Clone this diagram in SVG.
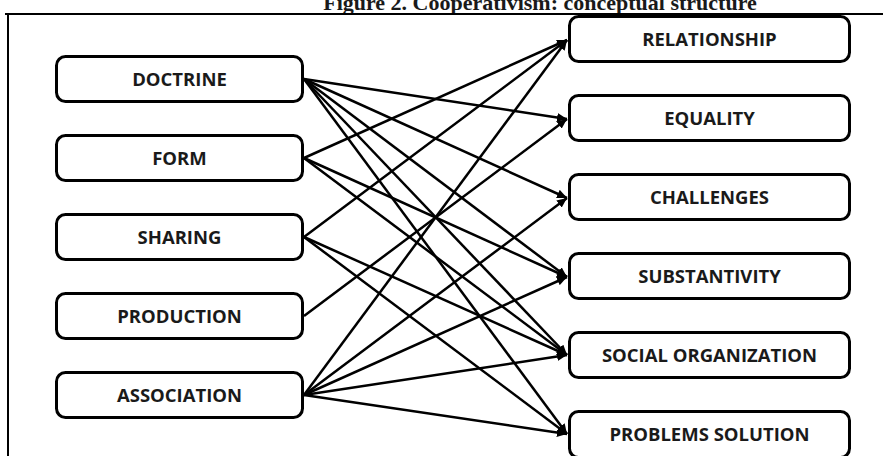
<svg xmlns="http://www.w3.org/2000/svg" width="883" height="456" viewBox="0 0 883 456">
  <style>
    .box rect { fill: #ffffff; stroke: #000000; stroke-width: 3; }
    .box text { font-family: "Open Sans", "Liberation Sans", sans-serif; font-weight: bold; font-size: 18.5px; fill: #1a1a1a; text-anchor: middle; }
    .title { font-family: "Liberation Serif", "Times New Roman", serif; font-weight: bold; font-size: 22px; fill: #1a1a1a; text-anchor: middle; }
    .frame { stroke: #000000; stroke-width: 2; fill: none; }
    #connectors line { stroke: #000000; stroke-width: 2.5; marker-end: url(#arrow); }
  </style>
  <defs>
    <marker id="arrow" markerUnits="userSpaceOnUse" markerWidth="11" markerHeight="9" refX="10" refY="4.5" orient="auto">
      <path d="M0,0 L10,4.5 L0,9 z" fill="#000000"/>
    </marker>
  </defs>
  <rect width="883" height="456" fill="#ffffff"/>
  <text class="title" x="540" y="10">Figure 2. Cooperativism: conceptual structure</text>
  <g id="frame">
    <line class="frame" x1="5" y1="14" x2="883" y2="14"/>
    <line class="frame" x1="8" y1="13" x2="8" y2="456"/>
  </g>
  <g id="connectors">
    <!-- DOCTRINE -->
    <line x1="304" y1="79" x2="567" y2="119"/>
    <line x1="304" y1="79" x2="567" y2="198"/>
    <line x1="304" y1="79" x2="567" y2="277"/>
    <line x1="304" y1="79" x2="567" y2="355"/>
    <line x1="304" y1="79" x2="567" y2="434"/>
    <!-- FORM -->
    <line x1="304" y1="158" x2="567" y2="40"/>
    <line x1="304" y1="158" x2="567" y2="277"/>
    <line x1="304" y1="158" x2="567" y2="355"/>
    <!-- SHARING -->
    <line x1="304" y1="237" x2="567" y2="40"/>
    <line x1="304" y1="237" x2="567" y2="355"/>
    <line x1="304" y1="237" x2="567" y2="434"/>
    <!-- PRODUCTION -->
    <line x1="304" y1="316" x2="567" y2="119"/>
    <!-- ASSOCIATION -->
    <line x1="304" y1="395" x2="567" y2="40"/>
    <line x1="304" y1="395" x2="567" y2="198"/>
    <line x1="304" y1="395" x2="567" y2="277"/>
    <line x1="304" y1="395" x2="567" y2="355"/>
    <line x1="304" y1="395" x2="567" y2="434"/>
  </g>
  <g id="doctrine" class="box"><rect x="56.5" y="56.5" width="246" height="45" rx="9"/><text x="179.5" y="86">DOCTRINE</text></g>
  <g id="form" class="box"><rect x="56.5" y="135.5" width="246" height="45" rx="9"/><text x="179.5" y="165">FORM</text></g>
  <g id="sharing" class="box"><rect x="56.5" y="214.5" width="246" height="45" rx="9"/><text x="179.5" y="244">SHARING</text></g>
  <g id="production" class="box"><rect x="56.5" y="293.5" width="246" height="45" rx="9"/><text x="179.5" y="323">PRODUCTION</text></g>
  <g id="association" class="box"><rect x="56.5" y="372.5" width="246" height="45" rx="9"/><text x="179.5" y="402">ASSOCIATION</text></g>
  <g id="relationship" class="box"><rect x="569.5" y="16.5" width="280" height="45" rx="9"/><text x="709.5" y="46">RELATIONSHIP</text></g>
  <g id="equality" class="box"><rect x="569.5" y="95.5" width="280" height="45" rx="9"/><text x="709.5" y="125">EQUALITY</text></g>
  <g id="challenges" class="box"><rect x="569.5" y="174.5" width="280" height="45" rx="9"/><text x="709.5" y="204">CHALLENGES</text></g>
  <g id="substantivity" class="box"><rect x="569.5" y="253.5" width="280" height="45" rx="9"/><text x="709.5" y="283">SUBSTANTIVITY</text></g>
  <g id="social-organization" class="box"><rect x="569.5" y="332.5" width="280" height="45" rx="9"/><text x="709.5" y="362">SOCIAL ORGANIZATION</text></g>
  <g id="problems-solution" class="box"><rect x="569.5" y="411.5" width="280" height="46" rx="9"/><text x="709.5" y="441">PROBLEMS SOLUTION</text></g>
</svg>
